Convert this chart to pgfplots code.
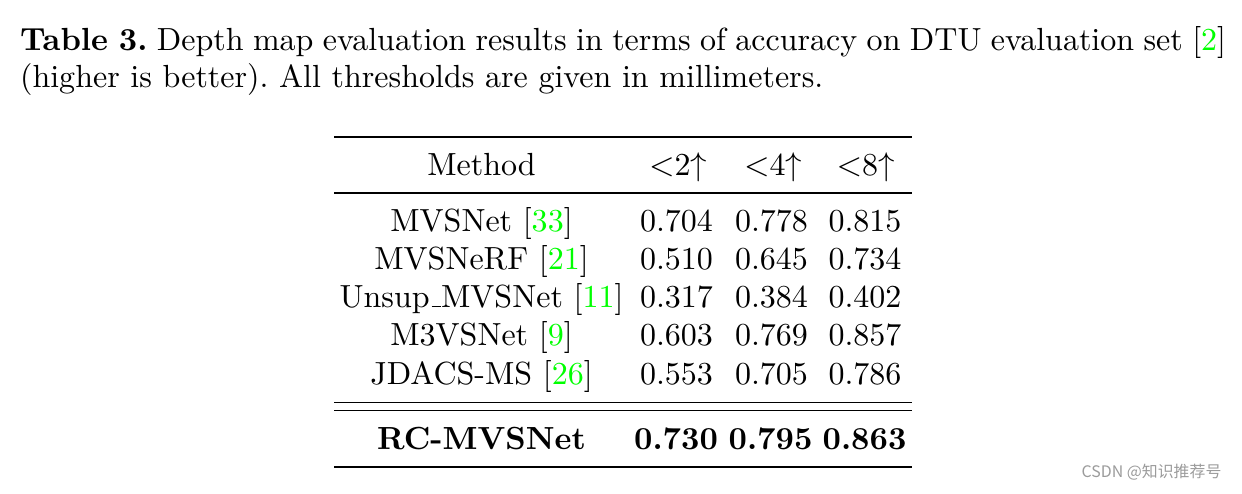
\documentclass[border=0pt]{standalone}
\usepackage{pgfplots}
\pgfplotsset{compat=1.18}
\usepackage{fontspec}
\newfontfamily\cjk{Noto Sans CJK SC}
\definecolor{citegreen}{rgb}{0,1,0}
\definecolor{wm}{RGB}{155,155,155}
\newcommand{\cit}[1]{[{\color{citegreen}#1}]}
\newcommand{\us}{\leavevmode\kern.06em\vbox{\hrule width.3em}}
\tikzset{
  tc/.style={anchor=base,inner sep=0pt,font=\fontsize{10.67}{12.5}\selectfont},
  tb/.style={anchor=base,inner sep=0pt,font=\fontsize{10.67}{12.5}\selectfont\bfseries}}
\begin{document}
\begin{tikzpicture}
\begin{axis}[width=414pt,height=164.333pt,scale only axis,
  xmin=0,xmax=1242,ymin=0,ymax=493,y dir=reverse,hide axis,clip=false]
\path (axis cs:0,0) rectangle (axis cs:1242,493);
% caption
\node[anchor=base west,inner sep=0pt] at (axis cs:19.5,50)
  {\parbox[t]{402pt}{\fontsize{10.67}{12.4}\selectfont\frenchspacing\textbf{Table 3.} Depth map evaluation results in terms of accuracy on DTU evaluation set \cit{2}\linebreak (higher is better). All thresholds are given in millimeters.}};
% rules
\draw[line width=0.9pt] (axis cs:334,137) -- (axis cs:912,137);
\draw[line width=0.55pt] (axis cs:334,193) -- (axis cs:912,193);
\draw[line width=0.55pt] (axis cs:334,402.5) -- (axis cs:912,402.5);
\draw[line width=0.55pt] (axis cs:334,410.5) -- (axis cs:912,410.5);
\draw[line width=0.9pt] (axis cs:334,467) -- (axis cs:912,467);
% header
\node[tc] at (axis cs:481.5,175) {Method};
\node[tc] at (axis cs:678,175) {$<$2$\uparrow$};
\node[tc] at (axis cs:773,175) {$<$4$\uparrow$};
\node[tc] at (axis cs:865.5,175) {$<$8$\uparrow$};
% rows
\node[tc] at (axis cs:481.5,231) {MVSNet \cit{33}};
\node[tc] at (axis cs:676.5,231) {0.704};
\node[tc] at (axis cs:771.5,231) {0.778};
\node[tc] at (axis cs:865,231) {0.815};
\node[tc] at (axis cs:481.5,269) {MVSNeRF \cit{21}};
\node[tc] at (axis cs:676.5,269) {0.510};
\node[tc] at (axis cs:771.5,269) {0.645};
\node[tc] at (axis cs:865,269) {0.734};
\node[tc] at (axis cs:481.5,307) {Unsup\us MVSNet \cit{11}};
\node[tc] at (axis cs:676.5,307) {0.317};
\node[tc] at (axis cs:771.5,307) {0.384};
\node[tc] at (axis cs:865,307) {0.402};
\node[tc] at (axis cs:481.5,345.5) {M3VSNet \cit{9}};
\node[tc] at (axis cs:676.5,345.5) {0.603};
\node[tc] at (axis cs:771.5,345.5) {0.769};
\node[tc] at (axis cs:865,345.5) {0.857};
\node[tc] at (axis cs:481.5,384) {JDACS-MS \cit{26}};
\node[tc] at (axis cs:676.5,384) {0.553};
\node[tc] at (axis cs:771.5,384) {0.705};
\node[tc] at (axis cs:865,384) {0.786};
% best
\node[tb] at (axis cs:481.5,449) {RC-MVSNet};
\node[tb] at (axis cs:676,449) {0.730};
\node[tb] at (axis cs:770.5,449) {0.795};
\node[tb] at (axis cs:864.5,449) {0.863};
% watermark
\node[anchor=base east,inner sep=0pt,text=wm,font=\cjk\fontsize{5.3}{6}\selectfont] at (axis cs:1222,477) {CSDN @知识推荐号};
\end{axis}
\end{tikzpicture}
\end{document}
